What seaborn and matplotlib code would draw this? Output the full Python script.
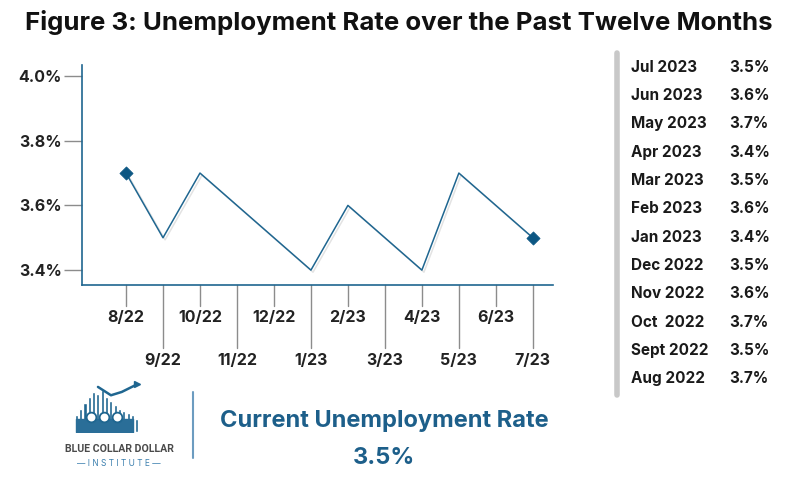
import matplotlib
matplotlib.use("Agg")
import matplotlib.pyplot as plt
import matplotlib.patheffects as pe
import seaborn as sns
import pandas as pd
import numpy as np

# data for the chart
months = ["8/22", "9/22", "10/22", "11/22", "12/22", "1/23",
          "2/23", "3/23", "4/23", "5/23", "6/23", "7/23"]
rates = [3.7, 3.5, 3.7, 3.6, 3.5, 3.4, 3.6, 3.5, 3.4, 3.7, 3.6, 3.5]

# side table (newest first)
table_months = ["Jul 2023", "Jun 2023", "May 2023", "Apr 2023", "Mar 2023", "Feb 2023",
                "Jan 2023", "Dec 2022", "Nov 2022", "Oct  2022", "Sept 2022", "Aug 2022"]
table_rates = ["3.5%", "3.6%", "3.7%", "3.4%", "3.5%", "3.6%",
               "3.4%", "3.5%", "3.6%", "3.7%", "3.5%", "3.7%"]

y_ticks = [3.4, 3.6, 3.8, 4.0]
current_rate = "3.5%"

# logo bar heights (decorative)
logo_bars = [4, 5.5, 7, 8.5, 9.5, 9, 10, 8.5, 7.5, 6.5, 5.5, 5, 4.5, 4, 3]

sns.set_theme(style="white")
plt.rcParams["font.family"] = ["Inter", "DejaVu Sans"]

BLUE = "#1f6690"
DARK_BLUE = "#0c5783"
GRAY = "#8c8c8c"

df = pd.DataFrame({"idx": np.arange(len(months)), "rate": rates})

fig = plt.figure(figsize=(8, 5), dpi=100)
fig.patch.set_facecolor("white")

fig.text(0.031, 0.955, "Figure 3: Unemployment Rate over the Past Twelve Months",
         fontsize=18.6, fontweight="bold", color="#111111", va="center", ha="left")

ax = fig.add_axes([0.1025, 0.43, 0.5885, 0.44])
sns.lineplot(data=df, x="idx", y="rate", ax=ax, color=BLUE, linewidth=1.1,
             path_effects=[pe.SimpleLineShadow(offset=(1.5, -1.5), alpha=0.12), pe.Normal()])
ends = df.iloc[[0, -1]]
sns.scatterplot(data=ends, x="idx", y="rate", ax=ax, marker="D", s=45,
                color=DARK_BLUE, edgecolor=DARK_BLUE, zorder=5)

ax.set_xlim(-1.19, 11.54)
ax.set_ylim(3.354, 4.034)
ax.set_xlabel("")
ax.set_ylabel("")

for s in ["top", "right"]:
    ax.spines[s].set_visible(False)
for s in ["left", "bottom"]:
    ax.spines[s].set_color(BLUE)
    ax.spines[s].set_linewidth(1.2)

ax.set_yticks(y_ticks)
ax.set_yticklabels([f"{v:.1f}%" for v in y_ticks])
ax.tick_params(axis="y", length=13, width=1, color=GRAY, left=True, pad=1.5,
               labelsize=11.5, labelcolor="#222222")
for lbl in ax.get_yticklabels():
    lbl.set_fontweight("bold")

# staggered x ticks: even index short, odd index long
ax.set_xticks(df["idx"])
ax.set_xticklabels([])
ax.tick_params(axis="x", length=0)
trans = ax.get_xaxis_transform()
for i, m in enumerate(months):
    if i % 2 == 0:
        tick_len, lab_y = -0.095, -0.15
    else:
        tick_len, lab_y = -0.285, -0.345
    ax.plot([i, i], [0, tick_len], transform=trans, color=GRAY, lw=1, clip_on=False)
    ax.text(i, lab_y, m, transform=trans, ha="center", va="center",
            fontsize=11.5, fontweight="bold", color="#222222")

# right side table
fig.add_artist(plt.Line2D([0.7715, 0.7715], [0.21, 0.894], color="#c8c8c8", lw=4))
row_top, row_step = 0.866, 0.0567
for k, (m, r) in enumerate(zip(table_months, table_rates)):
    yy = row_top - k * row_step
    fig.text(0.789, yy, m, fontsize=11, fontweight="bold", color="#1a1a1a", va="center")
    fig.text(0.912, yy, r, fontsize=11, fontweight="bold", color="#1a1a1a", va="center")

# bottom: logo, divider, current rate
fig.add_artist(plt.Line2D([0.2412, 0.2412], [0.084, 0.216], color="#6c9cc0", lw=1.5))
fig.text(0.480, 0.158, "Current Unemployment Rate", fontsize=17, fontweight="bold",
         color="#1d5f8a", ha="center", va="center")
fig.text(0.480, 0.084, current_rate, fontsize=17, fontweight="bold",
         color="#1d5f8a", ha="center", va="center")

lax = fig.add_axes([0.09, 0.136, 0.092, 0.096])
lax.bar(np.arange(len(logo_bars)), logo_bars, width=0.7, color="#1f6690")
lax.plot([5, 8, 10.5, 13.6], [10.8, 8.8, 9.6, 11.2], color="#1f6690", lw=1.8, clip_on=False)
lax.plot([14], [11.4], marker=">", color="#1f6690", markersize=5, clip_on=False)
lax.fill_between([0, 13], 0, 3.2, color="#2a6e98")
for hx in [3.5, 6.5, 9.5]:
    lax.plot([hx], [3.6], marker="o", markersize=7, color="white",
             markeredgecolor="#1f6690", markeredgewidth=1.3)
lax.set_xlim(-1, 16)
lax.set_ylim(0, 11.5)
lax.axis("off")

fig.text(0.149, 0.102, "BLUE COLLAR DOLLAR", fontsize=7.6, fontweight="bold",
         family=["Roboto", "DejaVu Sans"], color="#4a4a4a",
         ha="center", va="center")
fig.text(0.149, 0.072, "\u2014 I N S T I T U T E \u2014", fontsize=6, color="#3b7fae",
         ha="center", va="center")

fig.savefig("out.png", dpi=100, facecolor="white")
